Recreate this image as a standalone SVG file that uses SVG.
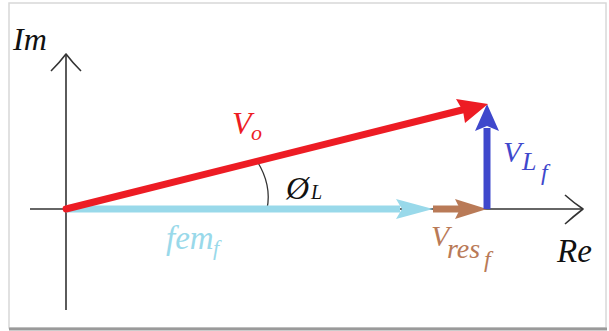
<svg xmlns="http://www.w3.org/2000/svg" width="609" height="331" viewBox="0 0 609 331">
<style>
.axis{stroke:#333;stroke-width:1.6;fill:none}
.chev{stroke:#333;stroke-width:1.6;fill:none;stroke-linejoin:round}
.t{font-family:"Liberation Serif","Times New Roman",serif;font-style:italic}
</style>
<rect x="0" y="0" width="609" height="331" fill="#fff"/>
<rect x="9" y="3" width="597" height="325" fill="#fff" stroke="#d8d8d8" stroke-width="1.5"/>
<line x1="9" y1="329" x2="607" y2="329" stroke="#9a9a9a" stroke-width="3"/>
<g id="axes">
<line class="axis" x1="66" y1="54" x2="66" y2="310"/>
<line class="axis" x1="30" y1="209" x2="583" y2="209"/>
<path class="chev" d="M51,71 Q60,62 66,54 Q72,62 81,71"/>
<path class="chev" d="M565,195 Q574,203 583,209 Q574,216 565,224"/>
<path d="M257,161 Q272,185 267,209" fill="none" stroke="#333" stroke-width="1.3"/>
</g>
<g id="connectors">
<g id="fem">
<line x1="66" y1="209" x2="400" y2="209" stroke="#99D9EA" stroke-width="7"/>
<polygon points="396,199 433,209 396,219 402,209" fill="#99D9EA"/>
</g>
<g id="vres">
<line x1="433" y1="209" x2="460" y2="209" stroke="#B97A57" stroke-width="7"/>
<polygon points="455,199 487,209 455,219 460,209" fill="#B97A57"/>
</g>
<g id="vl">
<line x1="487" y1="209" x2="487" y2="128" stroke="#3F48CC" stroke-width="7"/>
<polygon points="475,131 487,104 499,131 487,126" fill="#3F48CC"/>
</g>
<g id="vo">
<line x1="66" y1="209" x2="466" y2="109" stroke="#ED1C24" stroke-width="7" stroke-linecap="round"/>
<polygon points="456,99 488,104 465,123 463,111" fill="#ED1C24"/>
</g>
</g>
<g id="labels">
<text class="t" x="13" y="50" font-size="32" fill="#111">Im</text>
<text class="t" x="557" y="262" font-size="33" fill="#111">Re</text>
<text class="t" x="232" y="134" font-size="32" fill="#ED1C24">V<tspan x="251" y="140" font-size="22">o</tspan></text>
<text class="t" x="286" y="199" font-size="32" fill="#111">Ø<tspan x="311" y="199" font-size="20">L</tspan></text>
<text class="t" x="166" y="249" font-size="33" fill="#99D9EA">fem<tspan x="213" y="255" font-size="22">f</tspan></text>
<text class="t" x="431" y="246" font-size="30" fill="#B97A57">V<tspan x="447" y="258" font-size="28">res</tspan><tspan x="484" y="267" font-size="24">f</tspan></text>
<text class="t" x="503" y="162" font-size="30" fill="#3F48CC">V<tspan x="522" y="170" font-size="26">L</tspan><tspan x="541" y="180" font-size="24">f</tspan></text>
</g>
</svg>
